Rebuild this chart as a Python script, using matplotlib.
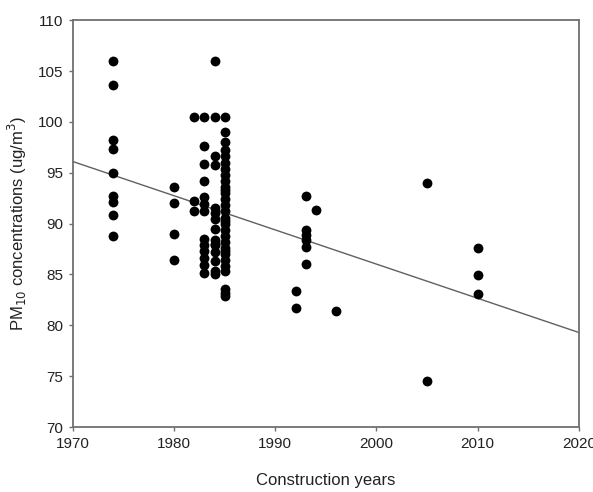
import matplotlib
matplotlib.use("Agg")
import matplotlib.pyplot as plt
import numpy as np

plt.rcParams['font.family'] = ['Liberation Sans', 'DejaVu Sans']

# Construction year and PM10 concentration pairs
years_1974 = [1974] * 9
pm_1974 = [106.0, 103.6, 98.2, 97.3, 95.0, 92.7, 92.1, 90.8, 88.8]

years_1980 = [1980] * 4
pm_1980 = [93.6, 92.0, 89.0, 86.4]

years_1982 = [1982] * 3
pm_1982 = [100.5, 92.2, 91.2]

years_1983 = [1983] * 13
pm_1983 = [100.5, 97.6, 95.9, 94.2, 92.6, 91.9, 91.2, 88.5, 87.9, 87.3, 86.6, 85.9, 85.1]

years_1984 = [1984] * 15
pm_1984 = [106.0, 100.5, 96.6, 95.8, 91.5, 91.0, 90.5, 89.5, 88.4, 87.9, 87.2, 86.3, 85.3, 85.0, 88.0]

years_1985 = [1985] * 30
pm_1985 = [100.5, 99.0, 98.0, 97.2, 96.6, 96.0, 95.4, 94.8, 94.2, 93.6, 93.0,
           92.4, 91.8, 91.2, 90.6, 90.0, 89.4, 88.8, 88.2, 87.6, 87.0, 86.4,
           85.8, 85.3, 83.6, 83.2, 82.9, 93.3, 90.3, 87.3]

years_1990s = [1992, 1992, 1993, 1993, 1993, 1993, 1993, 1993, 1994, 1996]
pm_1990s = [83.4, 81.7, 92.7, 89.4, 88.9, 88.4, 87.7, 86.0, 91.3, 81.4]

years_2000s = [2005, 2005, 2010, 2010, 2010]
pm_2000s = [94.0, 74.5, 87.6, 84.9, 83.1]

# Fitted regression line
fit_x = [1970, 2020]
fit_y = [96.1, 79.3]

x_ticks = [1970, 1980, 1990, 2000, 2010, 2020]
y_ticks = [70, 75, 80, 85, 90, 95, 100, 105, 110]

all_years = (years_1974 + years_1980 + years_1982 + years_1983 + years_1984 +
             years_1985 + years_1990s + years_2000s)
all_pm = (pm_1974 + pm_1980 + pm_1982 + pm_1983 + pm_1984 +
          pm_1985 + pm_1990s + pm_2000s)

fig = plt.figure(figsize=(5.93, 4.92), dpi=100)
ax = fig.add_axes([0.123, 0.132, 0.853, 0.827])

ax.plot(fit_x, fit_y, color='#606060', lw=1.0, zorder=2, clip_on=False)
ax.scatter(all_years, all_pm, s=50, color='black', zorder=3, linewidths=0)

ax.set_xlim(1970, 2020)
ax.set_ylim(70, 110)
ax.set_xticks(x_ticks)
ax.set_yticks(y_ticks)

for sp in ax.spines.values():
    sp.set_color('#707070')
    sp.set_linewidth(1.3)
ax.tick_params(axis='both', direction='out', length=3, width=1.0, color='#707070',
               labelsize=11, labelcolor='#222222', pad=4)

ax.set_xlabel('Construction years', fontsize=12, color='#222222', labelpad=16)
ax.set_ylabel('PM$_{10}$ concentrations (ug/m$^{3}$)', fontsize=12, color='#222222', labelpad=6)

fig.savefig('out.png', dpi=100)
